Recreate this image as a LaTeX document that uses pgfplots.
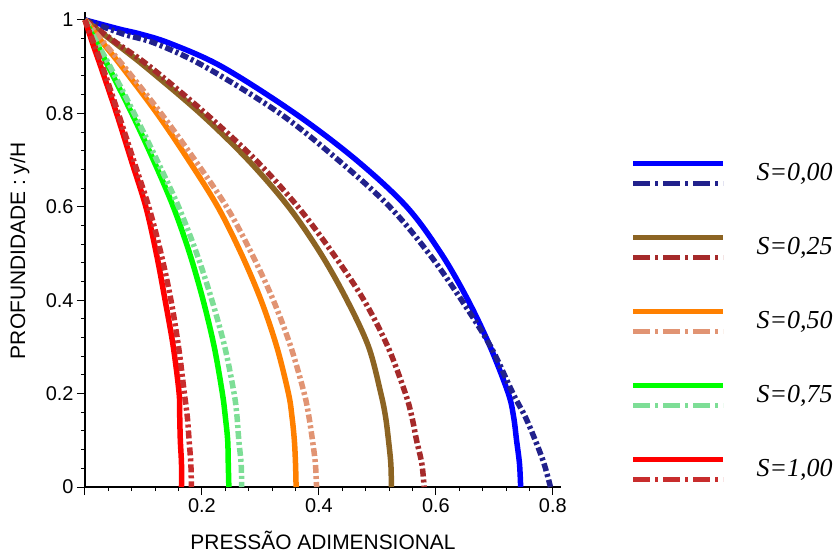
\documentclass[border=0pt]{standalone}
\usepackage{pgfplots}
\pgfplotsset{compat=1.18}
\usepackage{fontspec}
\setmainfont{Liberation Sans}
\newfontfamily\timesf{Liberation Serif}
\definecolor{cBlue}{RGB}{0,0,255}
\definecolor{cBlueD}{RGB}{33,33,140}
\definecolor{cBrown}{RGB}{140,100,35}
\definecolor{cBrownD}{RGB}{165,42,42}
\definecolor{cOrange}{RGB}{255,128,0}
\definecolor{cOrangeD}{RGB}{225,148,115}
\definecolor{cGreen}{RGB}{0,255,0}
\definecolor{cGreenD}{RGB}{125,222,150}
\definecolor{cRed}{RGB}{255,0,0}
\definecolor{cRedD}{RGB}{200,45,45}
\tikzset{
  sol/.style={line width=5.5bp, smooth, tension=0.55},
  dd/.style={line width=5.5bp, smooth, tension=0.55, dash pattern=on 8bp off 3bp on 3bp off 3bp},
}
\newcommand{\legimg}[2]{%
  \draw[line width=5bp, #1] (0bp,9bp) -- (90bp,9bp);
  \draw[line width=5bp, #2, dash pattern=on 17bp off 5bp on 3bp off 5bp] (0bp,-11bp) -- (90bp,-11bp);}
\begin{document}
\begin{tikzpicture}
\path[use as bounding box] (-85bp,-66bp) rectangle (755bp,487bp);
\begin{axis}[
  anchor=origin, at={(0,0)},
  scale only axis, width=476bp, height=475bp,
  xmin=0, xmax=0.814, ymin=0, ymax=1.017,
  axis lines=left,
  axis line style={-, line width=1.2bp, black},
  xtick={0,0.2,0.4,0.6,0.8}, xticklabels={,0.2,0.4,0.6,0.8},
  ytick={0,0.2,0.4,0.6,0.8,1}, yticklabels={0,0.2,0.4,0.6,0.8,1},
  minor tick num=4,
  tick align=outside, major tick length=8bp, minor tick length=4bp,
  every tick/.style={black, line width=1bp},
  ticklabel style={font=\fontsize{20}{24}\selectfont},
  /pgf/number format/assume math mode=true,
  xlabel={PRESSÃO ADIMENSIONAL},
  ylabel={PROFUNDIDADE : y/H},
  label style={font=\fontsize{21}{25}\selectfont},
  xlabel style={at={(axis description cs:0.5,-0.112)}, anchor=center},
  ylabel style={at={(axis description cs:-0.137,0.497)}, anchor=center, rotate=0},
  clip=false,
  legend style={at={(axis description cs:1.146,0.686)}, anchor=north west,
    draw=none, fill=none, inner sep=0pt, row sep=49bp, column sep=31bp,
    font=\timesf\itshape\fontsize{26}{31}\selectfont,
    nodes={inner sep=0pt, anchor=west}},
  legend cell align=left,
]
% S=0,00
\addplot[sol, cBlue, legend image code/.code={\legimg{cBlue}{cBlueD}}] coordinates {
(0,1) (0.06,0.98) (0.094,0.97) (0.145,0.95) (0.234,0.9) (0.359,0.8) (0.464,0.7) (0.55,0.6) (0.609,0.5) (0.655,0.4) (0.693,0.3) (0.724,0.2) (0.733,0.15) (0.738,0.1) (0.743,0.05) (0.745,0)};
\addlegendentry{S=0,00}
\addplot[dd, cBlueD, forget plot] coordinates {
(0,1) (0.065,0.97) (0.12,0.95) (0.205,0.9) (0.333,0.8) (0.433,0.7) (0.521,0.6) (0.588,0.5) (0.644,0.4) (0.694,0.3) (0.732,0.2) (0.753,0.15) (0.77,0.1) (0.785,0.05) (0.796,0)};
% S=0,25
\addplot[sol, cBrown, legend image code/.code={\legimg{cBrown}{cBrownD}}] coordinates {
(0,1) (0.052,0.95) (0.103,0.9) (0.197,0.8) (0.279,0.7) (0.348,0.6) (0.403,0.5) (0.448,0.4) (0.485,0.3) (0.506,0.2) (0.514,0.15) (0.519,0.1) (0.523,0.05) (0.524,0)};
\addlegendentry{S=0,25}
\addplot[dd, cBrownD, forget plot] coordinates {
(0,1) (0.055,0.95) (0.111,0.9) (0.206,0.8) (0.292,0.7) (0.364,0.6) (0.424,0.5) (0.477,0.4) (0.518,0.3) (0.548,0.2) (0.559,0.15) (0.567,0.1) (0.576,0.05) (0.58,0)};
% S=0,50
\addplot[sol, cOrange, legend image code/.code={\legimg{cOrange}{cOrangeD}}] coordinates {
(0,1) (0.031,0.95) (0.063,0.9) (0.123,0.8) (0.177,0.7) (0.227,0.6) (0.267,0.5) (0.301,0.4) (0.328,0.3) (0.348,0.2) (0.354,0.15) (0.358,0.1) (0.36,0.05) (0.361,0)};
\addlegendentry{S=0,50}
\addplot[dd, cOrangeD, forget plot] coordinates {
(0,1) (0.033,0.95) (0.067,0.9) (0.13,0.8) (0.188,0.7) (0.242,0.6) (0.285,0.5) (0.322,0.4) (0.352,0.3) (0.375,0.2) (0.383,0.15) (0.389,0.1) (0.394,0.05) (0.396,0)};
% S=0,75
\addplot[sol, cGreen, legend image code/.code={\legimg{cGreen}{cGreenD}}] coordinates {
(0,1) (0.02,0.95) (0.04,0.9) (0.08,0.8) (0.117,0.7) (0.151,0.6) (0.179,0.5) (0.202,0.4) (0.221,0.3) (0.235,0.2) (0.24,0.15) (0.244,0.1) (0.245,0.05) (0.246,0)};
\addlegendentry{S=0,75}
\addplot[dd, cGreenD, forget plot] coordinates {
(0,1) (0.021,0.95) (0.043,0.9) (0.084,0.8) (0.123,0.7) (0.16,0.6) (0.191,0.5) (0.217,0.4) (0.239,0.3) (0.255,0.2) (0.26,0.15) (0.263,0.1) (0.267,0.05) (0.268,0)};
% S=1,00
\addplot[sol, cRed, legend image code/.code={\legimg{cRed}{cRedD}}] coordinates {
(0,1) (0.013,0.95) (0.027,0.9) (0.054,0.8) (0.079,0.7) (0.104,0.6) (0.122,0.5) (0.137,0.4) (0.151,0.3) (0.161,0.2) (0.162,0.15) (0.163,0.1) (0.165,0.05) (0.165,0)};
\addlegendentry{S=1,00}
\addplot[dd, cRedD, forget plot] coordinates {
(0,1) (0.015,0.95) (0.03,0.9) (0.057,0.8) (0.083,0.7) (0.109,0.6) (0.13,0.5) (0.147,0.4) (0.16,0.3) (0.17,0.2) (0.175,0.15) (0.178,0.1) (0.181,0.05) (0.182,0)};
\end{axis}
\end{tikzpicture}
\end{document}
